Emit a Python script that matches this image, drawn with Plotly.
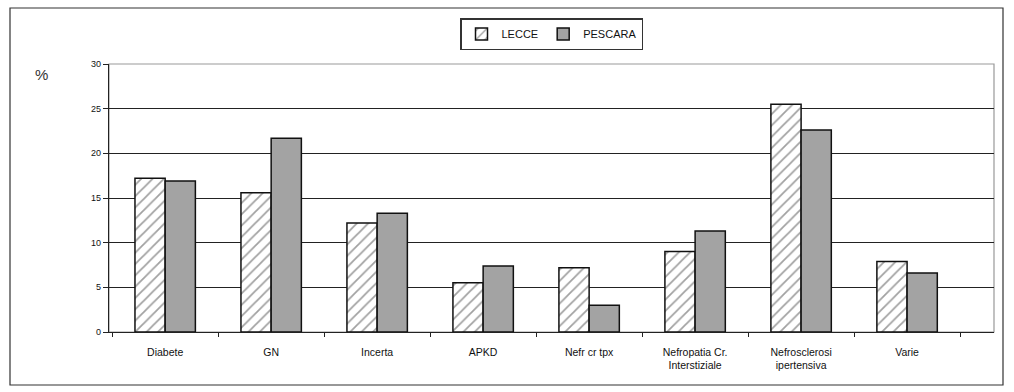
import plotly.graph_objects as go

categories = ["Diabete", "GN", "Incerta", "APKD", "Nefr cr tpx",
              "Nefropatia Cr.<br>Interstiziale", "Nefrosclerosi<br>ipertensiva", "Varie"]
lecce = [17.2, 15.6, 12.2, 5.5, 7.2, 9.0, 25.5, 7.9]
pescara = [16.9, 21.7, 13.3, 7.4, 3.0, 11.3, 22.6, 6.6]
y_ticks = [0, 5, 10, 15, 20, 25, 30]

fig = go.Figure()
fig.add_trace(go.Bar(
    name="LECCE", x=categories, y=lecce,
    marker=dict(color="white", line=dict(color="#111", width=1.5),
                pattern=dict(shape="/", fgcolor="#444", bgcolor="white", size=8, solidity=0.22)),
))
fig.add_trace(go.Bar(
    name="PESCARA", x=categories, y=pescara,
    marker=dict(color="#a3a3a3", line=dict(color="#111", width=1.5)),
))

L, R, T, B = 109, 20, 64, 60
W, H = 1014, 392
pw, ph = W - L - R, H - T - B

fig.update_layout(
    width=W, height=H,
    margin=dict(l=L, r=R, t=T, b=B),
    paper_bgcolor="white", plot_bgcolor="white",
    barmode="group", bargap=0.43, bargroupgap=0,
    font=dict(family="Liberation Sans, Arial, sans-serif", color="#222"),
    legend=dict(orientation="h", x=0.5, xanchor="center", y=(H - B - 34) / ph, yanchor="middle",
                bordercolor="#333", borderwidth=1.5, font=dict(size=11, color="#111"),
                itemwidth=30, traceorder="normal"),
    xaxis=dict(range=[-0.53, 7.82], showline=True, linecolor="#222", linewidth=1.2,
               ticks="outside", tickson="boundaries", ticklen=4, tickcolor="#222",
               tickfont=dict(size=10.5, color="#111"), ticklabelstandoff=10, showgrid=False),
    yaxis=dict(range=[0, 30], tickvals=y_ticks, showline=True, linecolor="#222", linewidth=1.2,
               ticks="outside", ticklen=5, tickcolor="#222", tickfont=dict(size=9, color="#111"),
               showgrid=True, gridcolor="#222", gridwidth=1.2, zeroline=False),
    shapes=[
        dict(type="rect", xref="paper", yref="paper", x0=0, x1=1, y0=0, y1=1,
             line=dict(color="#999", width=1.2), layer="below"),
        dict(type="rect", xref="paper", yref="paper",
             x0=(10 - L) / pw, x1=(1003 - L) / pw,
             y0=(H - B - 385) / ph, y1=(H - B - 8) / ph,
             line=dict(color="#333", width=1.2)),
    ],
    annotations=[
        dict(text="%", xref="paper", yref="paper", x=(41 - L) / pw, y=(H - B - 74) / ph,
             xanchor="center", yanchor="middle",
             showarrow=False, font=dict(size=15, color="#333")),
    ],
)

fig.write_html("out.html", config={"displayModeBar": False},
               post_script="document.body.style.margin='0';")
